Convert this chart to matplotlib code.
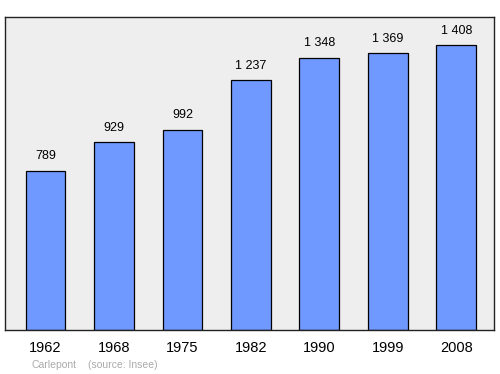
import matplotlib
matplotlib.use('Agg')
import matplotlib.pyplot as plt

plt.rcParams['font.family'] = ['Liberation Sans', 'DejaVu Sans']

# population data
years = ['1962', '1968', '1975', '1982', '1990', '1999', '2008']
population = [789, 929, 992, 1237, 1348, 1369, 1408]
value_labels = ['789', '929', '992', '1 237', '1 348', '1 369', '1 408']
town = 'Carlepont'
source = '(source: Insee)'

fig = plt.figure(figsize=(5, 3.74), dpi=100)
ax = fig.add_axes([5 / 500, 1 - 330 / 374, 489 / 500, 313 / 374])
ax.set_facecolor('#eeeeee')

xs = list(range(len(years)))
bars = ax.bar(xs, population, width=0.58, color='#7099ff', edgecolor='black', linewidth=0.9, zorder=2)

for x, v, lab in zip(xs, population, value_labels):
    ax.annotate(lab, (x, v), xytext=(0, 8), textcoords='offset points',
                ha='center', va='baseline', fontsize=9, color='black')

ax.set_xlim(-0.59, 6.55)
ax.set_ylim(0, max(population) * 1.1)
ax.set_yticks([])
ax.set_xticks(xs)
ax.set_xticklabels(years, fontsize=10.5)
ax.tick_params(axis='x', length=0, pad=8)
for s in ax.spines.values():
    s.set_linewidth(1.0)
    s.set_color('#222222')

fig.text(31 / 500, 1 - 365 / 374, town, fontsize=7.5, color='#aaaaaa', va='center', ha='left')
fig.text(88 / 500, 1 - 365 / 374, source, fontsize=7.5, color='#aaaaaa', va='center', ha='left')

fig.savefig('out.png', dpi=100)
